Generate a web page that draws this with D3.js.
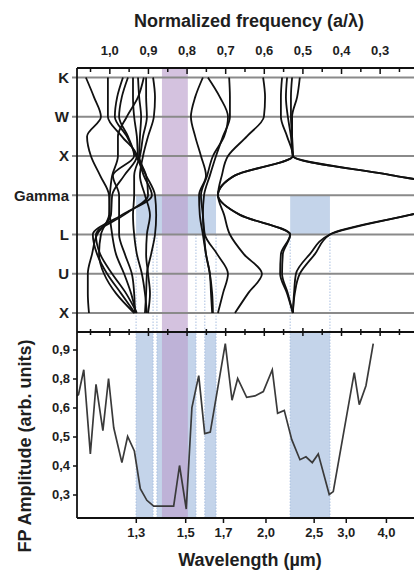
<!DOCTYPE html>
<html>
<head>
<meta charset="utf-8">
<script src="https://cdn.jsdelivr.net/npm/d3@7"></script>
<style>
body{margin:0;background:#fff;}
text{font-family:Arial,"Liberation Sans",sans-serif;font-weight:bold;fill:#1e1e1e;}
</style>
</head>
<body>
<script>
//----- data -----
var kLabels = ["K", "W", "X", "Gamma", "L", "U", "X"];
var kSteps = [0, 0.5, 1, 1.5, 2, 2.5, 3, 3.5, 4, 4.5, 5, 5.5, 6];//band samples along the k path

var freqTicks = [1.0, 0.9, 0.8, 0.7, 0.6, 0.5, 0.4, 0.3];
var freqLabels = ["1,0", "0,9", "0,8", "0,7", "0,6", "0,5", "0,4", "0,3"];
var freqMinor = [1.05, 0.95, 0.85, 0.75, 0.65, 0.55, 0.45, 0.35, 0.25, 0.15];

var lamTicks = [1.3, 1.5, 1.7, 2.0, 2.5, 3.0, 4.0];
var lamLabels = ["1,3", "1,5", "1,7", "2,0", "2,5", "3,0", "4,0"];

var ampTicks = [0.3, 0.4, 0.5, 0.6, 0.8, 0.9];
var ampLabels = ["0,3", "0,4", "0,5", "0,6", "0,8", "0,9"];

// band structure, normalized frequency at each kStep
var bands = [
  [1.062, 1.041, 1.023, 1.059, 1.049, 1.025, 1.002, 1.000, 0.994, 0.984, 0.963, 0.945, 0.932],
  [1.005, 1.005, 1.005, 0.969, 0.930, 0.963, 0.994, 0.997, 1.033, 1.046, 1.057, 1.057, 1.054],
  [0.966, 0.981, 0.987, 0.956, 0.932, 0.906, 0.883, 0.880, 0.883, 0.893, 0.904, 0.906, 0.909],
  [0.953, 0.969, 0.976, 0.953, 0.937, 0.992, 0.976, 0.976, 0.976, 0.961, 0.943, 0.937, 0.935],
  [0.940, 0.940, 0.937, 0.930, 0.927, 0.912, 0.891, 0.969, 1.044, 1.033, 1.007, 0.971, 0.935],
  [0.927, 0.924, 0.919, 0.922, 0.924, 0.906, 0.901, 0.963, 1.036, 1.025, 0.994, 0.958, 0.930],
  [0.906, 0.906, 0.904, 0.914, 0.922, 0.937, 0.937, 0.940, 0.937, 0.930, 0.917, 0.909, 0.904],
  [0.888, 0.883, 0.886, 0.901, 0.914, 0.922, 0.909, 0.896, 0.904, 0.906, 0.901, 0.896, 0.901],
  [0.912, 0.927, 0.956, 0.979, 0.979, 0.994, 1.000, 1.002, 1.023, 1.028, 1.015, 0.984, 0.937],
  [0.759, 0.779, 0.790, 0.779, 0.764, 0.751, 0.769, 0.767, 0.759, 0.751, 0.741, 0.738, 0.735],
  [0.746, 0.715, 0.694, 0.704, 0.733, 0.748, 0.764, 0.759, 0.754, 0.722, 0.694, 0.707, 0.720],
  [0.691, 0.689, 0.689, 0.707, 0.725, 0.741, 0.756, 0.759, 0.756, 0.751, 0.741, 0.735, 0.733],
  [0.603, 0.598, 0.601, 0.645, 0.694, 0.710, 0.720, 0.704, 0.689, 0.653, 0.606, 0.642, 0.676],
  [0.554, 0.557, 0.557, 0.541, 0.526, 0.677, 0.720, 0.663, 0.533, 0.557, 0.559, 0.541, 0.526],
  [0.541, 0.544, 0.539, 0.531, 0.526, 0.264, 0.000, 0.223, 0.430, 0.469, 0.508, 0.521, 0.526],
  [0.528, 0.531, 0.531, 0.528, 0.526, 0.264, 0.000, 0.223, 0.430, 0.482, 0.518, 0.523, 0.526],
  [0.508, 0.515, 0.528, 0.528, 0.526, 0.677, 0.720, 0.663, 0.533, 0.552, 0.554, 0.539, 0.526]
];

// FP amplitude spectrum
var fpWavelength = [1.122, 1.126, 1.140, 1.158, 1.174, 1.194, 1.211, 1.227, 1.253, 1.272,
  1.295, 1.316, 1.340, 1.366, 1.392, 1.448, 1.474, 1.505, 1.532, 1.566,
  1.597, 1.627, 1.714, 1.756, 1.793, 1.855, 1.916, 1.982, 2.058, 2.106,
  2.169, 2.244, 2.334, 2.404, 2.482, 2.561, 2.720, 2.783, 3.167, 3.275,
  3.431, 3.619];
var fpAmplitude = [0.68, 0.69, 0.83, 0.44, 0.76, 0.52, 0.80, 0.53, 0.41, 0.50,
  0.45, 0.32, 0.28, 0.26, 0.26, 0.26, 0.40, 0.25, 0.60, 0.81,
  0.51, 0.515, 0.92, 0.65, 0.80, 0.67, 0.68, 0.71, 0.83, 0.58,
  0.59, 0.49, 0.42, 0.43, 0.41, 0.44, 0.30, 0.31, 0.82, 0.62,
  0.75, 0.92];

// shaded regions (normalized frequency)
var gapsTop = [[0.932, 0.725], [0.533, 0.430]];
var gapsBottom = [[0.932, 0.888], [0.878, 0.777], [0.754, 0.725], [0.533, 0.430]];
var purpleBand = [0.865, 0.798];

//----- layout -----
var width = 414, height = 570;
var left = 77, right = 440;//plot runs past the window edge, as in the cropped figure
var topAxisY = 68, midAxisY = 332, bottomAxisY = 518;

var svg = d3.select("body").append("svg")
    .attr("width", width)
    .attr("height", height);

var x = d3.scaleLinear().domain([1.085, 0.145]).range([left, right]);
var xInv = d3.scaleLinear().domain([1 / 1.122, 1 / 7.26]).range([left, right]);//1/wavelength
var yK = d3.scaleLinear().domain([0, 6]).range([77.5, 313]);
var yA = d3.scaleLinear().domain(ampTicks)
    .range(ampTicks.map(function(d, i){ return 494.5 - i * 29; }));

//----- shading -----
var blue = "#c4d4ea";
svg.append("g").selectAll("rect")
    .data(gapsTop).enter().append("rect")
    .attr("x", function(d){ return x(d[0]); })
    .attr("width", function(d){ return x(d[1]) - x(d[0]); })
    .attr("y", yK(3))
    .attr("height", yK(4) - yK(3))
    .style("fill", blue);

svg.append("g").selectAll("rect")
    .data(gapsBottom).enter().append("rect")
    .attr("x", function(d){ return x(d[0]); })
    .attr("width", function(d){ return x(d[1]) - x(d[0]); })
    .attr("y", midAxisY)
    .attr("height", bottomAxisY - midAxisY)
    .style("fill", blue);

// dotted edges of the gaps, from L down
var edges = [];
gapsBottom.forEach(function(g){ edges.push(g[0], g[1]); });
svg.append("g").selectAll("line")
    .data(edges).enter().append("line")
    .attr("x1", function(d){ return x(d); })
    .attr("x2", function(d){ return x(d); })
    .attr("y1", yK(4))
    .attr("y2", bottomAxisY)
    .style("stroke", "#a9bfe0")
    .style("stroke-width", 1)
    .style("stroke-dasharray", "1.5,1.5");

svg.append("rect")
    .attr("x", x(purpleBand[0]))
    .attr("width", x(purpleBand[1]) - x(purpleBand[0]))
    .attr("y", topAxisY)
    .attr("height", bottomAxisY - topAxisY)
    .style("fill", "#b99ccb")
    .style("opacity", 0.62);

//----- k path grid -----
svg.append("g").selectAll("line")
    .data(kLabels).enter().append("line")
    .attr("x1", left - 5)
    .attr("x2", right)
    .attr("y1", function(d, i){ return yK(i); })
    .attr("y2", function(d, i){ return yK(i); })
    .style("stroke", "#8a8a8a")
    .style("stroke-width", 2);

svg.append("g").selectAll("text")
    .data(kLabels).enter().append("text")
    .attr("x", 69)
    .attr("y", function(d, i){ return yK(i); })
    .attr("dy", "0.36em")
    .style("text-anchor", "end")
    .style("font-size", "15px")
    .text(function(d){ return d; });

//----- bands -----
var bandLine = d3.line()
    .x(function(d){ return x(d); })
    .y(function(d, i){ return yK(kSteps[i]); })
    .curve(d3.curveMonotoneY);

svg.append("g").selectAll("path")
    .data(bands).enter().append("path")
    .attr("d", bandLine)
    .style("fill", "none")
    .style("stroke", "#111")
    .style("stroke-width", 1.8);

//----- FP spectrum -----
var fp = fpWavelength.map(function(l, i){ return [l, fpAmplitude[i]]; });
svg.append("path")
    .datum(fp)
    .attr("d", d3.line()
        .x(function(d){ return xInv(1 / d[0]); })
        .y(function(d){ return yA(d[1]); }))
    .style("fill", "none")
    .style("stroke", "#3a3a3a")
    .style("stroke-width", 1.7);

//----- axes -----
function tickLines(g, vals, y1, y2){
    g.selectAll(null)
        .data(vals).enter().append("line")
        .attr("x1", function(d){ return x(d); })
        .attr("x2", function(d){ return x(d); })
        .attr("y1", y1)
        .attr("y2", y2)
        .style("stroke", "#111")
        .style("stroke-width", 1.5);
}

var axes = svg.append("g");
// top frequency axis
axes.append("line").attr("x1", left).attr("x2", right)
    .attr("y1", topAxisY).attr("y2", topAxisY)
    .style("stroke", "#111").style("stroke-width", 1.8);
tickLines(axes, freqTicks, topAxisY, topAxisY + 6);
tickLines(axes, freqMinor, topAxisY, topAxisY + 4);
axes.append("g").selectAll("text")
    .data(freqTicks).enter().append("text")
    .attr("x", function(d){ return x(d); })
    .attr("y", 55)
    .style("text-anchor", "middle")
    .style("font-size", "13px")
    .text(function(d, i){ return freqLabels[i]; });

// axis between the panels, ticks both sides
axes.append("line").attr("x1", left).attr("x2", right)
    .attr("y1", midAxisY).attr("y2", midAxisY)
    .style("stroke", "#111").style("stroke-width", 1.8);
tickLines(axes, freqTicks, midAxisY - 4, midAxisY + 4);
tickLines(axes, freqMinor, midAxisY - 3, midAxisY + 3);

// left frame
axes.append("line").attr("x1", left).attr("x2", left)
    .attr("y1", topAxisY).attr("y2", bottomAxisY)
    .style("stroke", "#111").style("stroke-width", 1.8);

// amplitude axis
var ampAxis = d3.axisLeft(yA)
    .tickValues(ampTicks)
    .tickSize(4)
    .tickFormat(function(d, i){ return ampLabels[i]; });
var ga = svg.append("g")
    .attr("transform", "translate(" + left + ",0)")
    .call(ampAxis);
ga.select(".domain").remove();
ga.selectAll("line").style("stroke", "#111").style("stroke-width", 1.5);
ga.selectAll("text").style("font-size", "13px").attr("x", -7).style("fill", "#1e1e1e");

// wavelength axis
var lamAxis = d3.axisBottom(xInv)
    .tickValues(lamTicks.map(function(l){ return 1 / l; }))
    .tickSize(5)
    .tickFormat(function(d, i){ return lamLabels[i]; });
var gl = svg.append("g")
    .attr("transform", "translate(0," + bottomAxisY + ")")
    .call(lamAxis);
gl.select(".domain").attr("d", "M" + left + ",0H" + right)
    .style("stroke", "#111").style("stroke-width", 1.8);
gl.selectAll("line").style("stroke", "#111").style("stroke-width", 1.5);
gl.selectAll("text").style("font-size", "13px").attr("y", 10).style("fill", "#1e1e1e");

//----- titles -----
svg.append("text")
    .attr("x", 249).attr("y", 27)
    .style("text-anchor", "middle")
    .style("font-size", "18px")
    .text("Normalized frequency (a/\u03bb)");

svg.append("text")
    .attr("x", 250).attr("y", 566)
    .style("text-anchor", "middle")
    .style("font-size", "18px")
    .text("Wavelength (\u00b5m)");

svg.append("text")
    .attr("transform", "translate(31,446) rotate(-90)")
    .style("text-anchor", "middle")
    .style("font-size", "18px")
    .text("FP Amplitude (arb. units)");
</script>
</body>
</html>
